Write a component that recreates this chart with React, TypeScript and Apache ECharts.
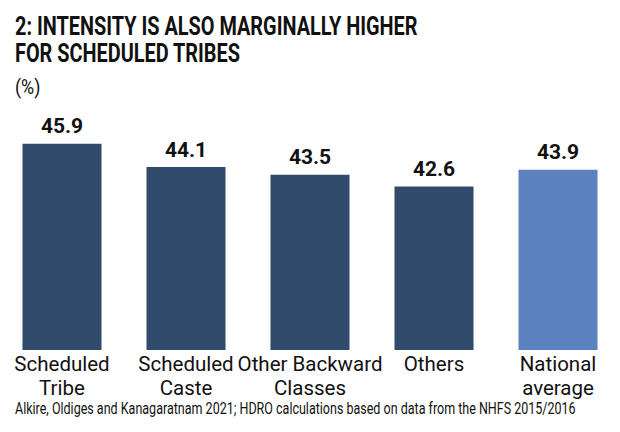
import React, { useEffect, useRef } from "react";
import * as echarts from "echarts";

const categories = ["Scheduled\nTribe", "Scheduled\nCaste", "Other Backward\nClasses", "Others", "National\naverage"];
const values = [45.9, 44.1, 43.5, 42.6, 43.9];
const barColors = ["#2F4A6A", "#2F4A6A", "#2F4A6A", "#2F4A6A", "#5B82BF"];

const titleText = "2: INTENSITY IS ALSO MARGINALLY HIGHER\nFOR SCHEDULED TRIBES";
const unitText = "(%)";
const sourceText = "Alkire, Oldiges and Kanagaratnam 2021; HDRO calculations based on data from the NHFS 2015/2016";

const FONT = "Roboto, 'Noto Sans', sans-serif";

export default function App() {
  const ref = useRef<HTMLDivElement>(null);
  useEffect(() => {
    const chart = echarts.init(ref.current!, null, { renderer: "svg" });
    chart.setOption({
      animation: false,
      backgroundColor: "#ffffff",
      graphic: [
        {
          type: "text",
          x: 15,
          y: 13,
          scaleX: 0.765,
          style: {
            text: titleText,
            fontFamily: FONT,
            fontWeight: "bold",
            fontSize: 26,
            lineHeight: 27,
            fill: "#111",
            textVerticalAlign: "top",
          },
        },
        {
          type: "text",
          x: 15,
          y: 76,
          scaleX: 0.85,
          style: {
            text: unitText,
            fontFamily: FONT,
            fontSize: 21,
            fill: "#111",
            textVerticalAlign: "top",
          },
        },
        {
          type: "text",
          x: 15,
          y: 401,
          scaleX: 0.782,
          style: {
            text: sourceText,
            fontFamily: FONT,
            fontSize: 16,
            fill: "#111",
            textVerticalAlign: "top",
          },
        },
      ],
      grid: { left: -1, width: 625, top: 90.5, bottom: 82, containLabel: false },
      xAxis: {
        type: "category",
        data: categories,
        axisLine: { show: false },
        axisTick: { show: false },
        axisLabel: {
          interval: 0,
          margin: 2,
          fontFamily: FONT,
          fontSize: 20.5,
          lineHeight: 24,
          color: "#111",
          verticalAlign: "top",
        },
      },
      yAxis: {
        type: "value",
        min: 30,
        max: 50,
        show: false,
        splitLine: { show: false },
      },
      series: [
        {
          type: "bar",
          data: values.map((v, i) => ({ value: v, itemStyle: { color: barColors[i] } })),
          barWidth: 79,
          label: {
            show: true,
            position: "top",
            distance: 7,
            fontFamily: FONT,
            fontWeight: "bold",
            fontSize: 21,
            color: "#111",
            formatter: (p: any) => p.value.toFixed(1),
          },
        },
      ],
    });
    return () => chart.dispose();
  }, []);
  return <div ref={ref} style={{ width: 620, height: 432, position: "absolute", left: 0, top: 0 }} />;
}
